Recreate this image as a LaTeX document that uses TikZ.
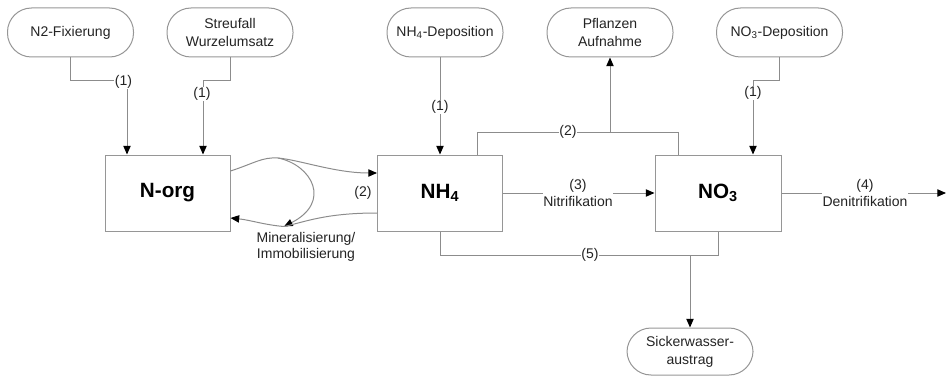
\documentclass[tikz,border=0pt]{standalone}
\usepackage{fontspec}
\setmainfont{Liberation Sans}
\usetikzlibrary{arrows.meta}
\definecolor{linec}{RGB}{140,140,140}
\definecolor{boxc}{RGB}{150,150,150}
\definecolor{txtc}{RGB}{35,35,35}
\begin{document}
\begin{tikzpicture}[x=0.75pt,y=-0.75pt,
  font=\fontsize{10.5}{13.5}\selectfont, text=txtc,
  pill/.style={draw=boxc, line width=0.75pt, rounded corners=18pt, minimum width=94.5pt, minimum height=36.75pt, align=center, inner sep=1pt},
  bigbox/.style={draw=boxc, line width=0.75pt, minimum width=93.75pt, minimum height=57pt, font=\fontsize{15.5}{18}\selectfont\bfseries, text=black},
  conn/.style={draw=linec, line width=0.75pt},
  arr/.style={conn, -{Triangle[length=6.5pt,width=5.5pt,color=black]}},
  lbl/.style={fill=white, inner sep=0.6pt, align=center, font=\fontsize{10.5}{12.75}\selectfont}
]
\useasboundingbox (0,0) rectangle (946,378);

% top sources
\node[pill] (fix) at (70.5,32.5) {N2-Fixierung};
\node[pill] (streu) at (230,32.5) {Streufall\\Wurzelumsatz};
\node[pill, minimum width=87pt] (nh4dep) at (445,32.5) {NH\textsubscript{4}-Deposition};
\node[pill] (pfl) at (610,32.5) {Pflanzen\\Aufnahme};
\node[pill] (no3dep) at (779.5,32.5) {NO\textsubscript{3}-Deposition};
\node[pill, minimum height=35.25pt] (sick) at (690,351.5) {Sickerwasser-\\austrag};

% pools
\node[bigbox] (norg) at (167.5,193) {N-org};
\node[bigbox] (nh4) at (440,193) {NH\textsubscript{4}};
\node[bigbox, minimum width=94.5pt] (no3) at (718,193) {NO\textsubscript{3}};

% helper coordinates
\coordinate (c1) at (127,81);
\coordinate (c2) at (203,81);
\coordinate (c3) at (753,81);
\coordinate (c4) at (477,132);
\coordinate (c5) at (678,132);
\coordinate (c6) at (690,255);
\coordinate (out) at (946,193);
\coordinate (p) at (278,158);
\coordinate (q) at (284,226.5);

% deposition / inputs
\draw[arr] (fix.south) |- (c1) -- (c1 |- norg.north);
\node[lbl] at (123.5,82) {(1)};
\draw[arr] (streu.south) |- (c2) -- (c2 |- norg.north);
\node[lbl] at (202,94) {(1)};
\draw[arr] (nh4.north |- nh4dep.south) -- (nh4.north);
\node[lbl] at (440,107) {(1)};
\draw[arr] (no3dep.south) |- (c3) -- (c3 |- no3.north);
\node[lbl] at (753,93) {(1)};

% plant uptake
\draw[conn] (nh4.north -| c4) -- (c4) -- (c5) -- (c5 |- no3.north);
\draw[arr] (pfl.south |- c4) -- (pfl.south);
\node[lbl] at (568,132) {(2)};

% nitrification
\draw[arr] (nh4.east) -- (no3.west);
\node[lbl] at (578,192.5) {(3)\\Nitrifikation};

% denitrification
\draw[arr] (no3.east) -- (out);
\node[lbl] at (865,192.5) {(4)\\Denitrifikation};

% leaching
\draw[conn] (nh4.south) -- ++(0,24) -| (no3.south);
\draw[arr] (sick.north |- c6) -- (sick.north);
\node[lbl] at (590,255) {(5)};

% mineralisation / immobilisation
\draw[arr] ([yshift=16.5pt]norg.east) .. controls (255,163) and (262,157) .. (p)
  .. controls (300,160) and (335,173) .. ([yshift=15pt]nh4.west);
\draw[arr] (p) .. controls (312,165) and (332,202) .. (q);
\draw[conn] ([yshift=-15pt]nh4.west) .. controls (325,213) and (305,222) .. (q);
\draw[arr] (q) .. controls (265,225) and (250,220) .. ([yshift=-18.75pt]norg.east);
\node[lbl, fill=none] at (363,193) {(2)};
\node[lbl, fill=none, font=\fontsize{10.5}{12}\selectfont] at (306,247) {Mineralisierung/\\Immobilisierung};
\end{tikzpicture}
\end{document}
